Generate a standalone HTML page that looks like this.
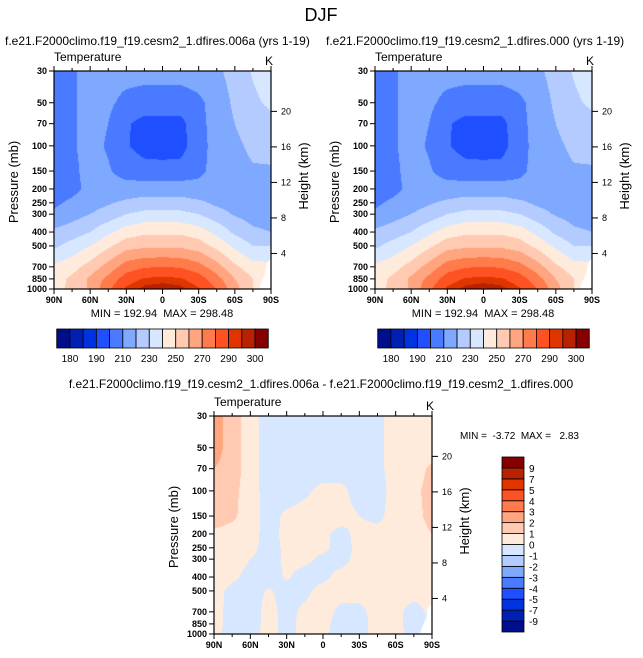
<!DOCTYPE html>
<html><head><meta charset="utf-8"><style>
body{margin:0;background:#fff;width:643px;height:658px;overflow:hidden;position:relative;font-family:"Liberation Sans",sans-serif}
canvas{position:absolute}
svg{position:absolute;left:0;top:0}
text{white-space:pre}
</style></head><body>
<canvas id="c0" width="217" height="218" style="left:54px;top:71px"></canvas>
<canvas id="c1" width="217" height="218" style="left:375px;top:71px"></canvas>
<canvas id="c2" width="218" height="218" style="left:214px;top:416px"></canvas>
<svg id="ov" width="643" height="658"></svg>
<script>
const lats=["90N","75N","60N","45N","30N","15N","0","15S","30S","45S","60S","75S","90S"];
const pLevels=[30,50,70,100,150,200,250,300,400,500,700,850,1000];
const tempLevels=[180,185,190,200,210,220,230,240,250,260,270,280,290,295,300];
const tempLabels=["180","190","210","230","250","270","290","300"];
const diffLevels=[-9,-7,-5,-4,-3,-2,-1,0,1,2,3,4,5,7,9];
const diffLabels=["-9","-7","-5","-4","-3","-2","-1","0","1","2","3","4","5","7","9"];
const colors=["#000e8c","#0020b4","#0033e0","#1f4fff","#4a7aff","#7fa8ff","#b3cbff","#d6e7ff","#ffebdc","#ffcab1","#ffa57f","#ff7b4c","#ff5222","#e13500","#b82200","#860000"];
const temp=[
[204,209,213,214,214,214,214,214,215,218,224,231,236],
[205,209,213,212,207,205,205,205,208,214,222,228,232],
[205,209,213,210,201,197,197,197,207,214,220,225,227],
[205,209,213,209,201,196,195,196,207,213,218,222,223],
[205,208,213,211,206,204,204,204,208,213,217,219,219],
[205,207,213,214,214,215,215,215,213,214,216,215,214],
[208,212,216,219,222,224,224,224,222,218,216,214,214],
[212,216,220,224,230,233,233,233,230,224,219,216,215],
[222,225,230,238,245,248,248,248,245,237,228,222,220],
[228,234,240,248,256,258,258,258,255,247,238,230,230],
[242,246,254,264,275,279,280,279,274,264,252,244,243],
[246,252,262,273,285,291,292,291,285,274,260,250,248],
[247,252,262,278,292,297,299,297,291,280,264,250,248]];
const diff=[
[2.5,1.5,0.5,-0.5,-0.5,-0.5,-0.5,-0.5,-0.5,-0.3,0.5,0.5,0.5],
[2.5,1.5,0.5,-0.5,-0.5,-0.5,-0.5,-0.5,-0.5,-0.3,0.5,0.5,0.5],
[2.0,1.5,0.5,-0.5,-0.5,-0.5,-0.5,-0.5,-0.5,-0.3,0.5,0.6,1.2],
[1.5,1.3,0.5,-0.5,-0.5,-0.2,0.3,0.3,-0.5,-0.5,0.5,0.8,1.3],
[1.5,1.2,0.5,-0.4,0.2,0.4,0.4,0.4,0.0,-0.3,0.5,0.7,1.3],
[0.8,0.6,0.4,-0.4,0.3,0.4,0.2,-0.3,0.3,0.4,0.5,0.6,1.0],
[0.5,0.5,0.3,-0.4,0.2,0.3,0.2,-0.3,0.2,0.4,0.5,0.5,0.5],
[0.5,0.4,0.0,-0.4,0.2,0.2,-0.2,-0.3,0.3,0.4,0.4,0.4,0.4],
[0.5,0.2,-0.3,-0.4,0.1,-0.3,-0.2,0.3,0.3,0.4,0.4,0.4,0.4],
[0.4,-0.3,-0.4,0.1,-0.3,-0.2,0.3,0.3,0.3,0.3,0.3,0.3,0.3],
[0.3,-0.3,-0.4,0.3,-0.3,0.2,0.3,-0.2,-0.2,0.3,0.2,-0.3,0.2],
[0.3,-0.3,-0.4,0.3,-0.3,0.3,0.2,-0.3,-0.3,0.3,0.2,-0.3,-0.2],
[0.2,-0.3,-0.2,0.2,-0.2,0.2,0.1,-0.2,-0.2,0.2,0.2,-0.2,-0.2]];
const heightTicks=[4,8,12,16,20];

const L30=Math.log(30),LR=Math.log(1000/30);
function yOf(p,top,h){return top+(Math.log(p)-L30)/LR*h;}
function hex(c){return [parseInt(c.substr(1,2),16),parseInt(c.substr(3,2),16),parseInt(c.substr(5,2),16)];}
const rgb=colors.map(hex);
function render(id,grid,levels){
  const cv=document.getElementById(id),ctx=cv.getContext('2d'),W=cv.width,H=cv.height;
  const img=ctx.createImageData(W,H);
  const lp=pLevels.map(Math.log);
  for(let y=0;y<H;y++){
    const l=L30+(y+0.5)/H*LR;
    let r=0;while(r<lp.length-2&&l>lp[r+1])r++;
    const fy=Math.min(1,Math.max(0,(l-lp[r])/(lp[r+1]-lp[r])));
    for(let x=0;x<W;x++){
      const u=(x+0.5)/W*(lats.length-1);
      let c=Math.min(lats.length-2,Math.floor(u));const fx=u-c;
      const a=grid[r][c],b=grid[r][c+1],d=grid[r+1][c],e=grid[r+1][c+1];
      const i=(y*W+x)*4;
      const v=(a*(1-fx)+b*fx)*(1-fy)+(d*(1-fx)+e*fx)*fy;
      let k=0;while(k<levels.length&&v>=levels[k])k++;
      const col=rgb[k];img.data[i]=col[0];img.data[i+1]=col[1];img.data[i+2]=col[2];img.data[i+3]=255;
    }
  }
  ctx.putImageData(img,0,0);
  // missing data (Antarctic surface) corner
  ctx.fillStyle='#fff';ctx.beginPath();
  ctx.moveTo(W,H*0.86);ctx.lineTo(W-4,H*0.88);ctx.lineTo(W-6,H*0.93);ctx.lineTo(W-10,H*0.97);ctx.lineTo(W-12,H);ctx.lineTo(W,H);ctx.closePath();ctx.fill();
}
render('c0',temp,tempLevels);render('c1',temp,tempLevels);render('c2',diff,diffLevels);

const NS="http://www.w3.org/2000/svg",ov=document.getElementById('ov');
function el(tag,at,txt){const e=document.createElementNS(NS,tag);for(const k in at)e.setAttribute(k,at[k]);if(txt!=null)e.textContent=txt;ov.appendChild(e);return e;}
function txt(x,y,s,size,anchor,name,extra){const e=el('text',Object.assign({x:x,y:y,'font-size':size,'text-anchor':anchor||'start',fill:'#000'},extra||{}),s);

return e;}
function axes(X,Y,W,H,pre){
  const f=el('rect',{x:X,y:Y,width:W,height:H,fill:'none',stroke:'#000','stroke-width':1.2});
  
  
  pLevels.forEach(p=>{const y=yOf(p,Y,H);
    el('line',{x1:X-5,y1:y,x2:X,y2:y,stroke:'#000'});
    txt(X-7,y+3,String(p),9,'end',pre+'-pressure-tick-label',{'font-weight':'bold'});});
  heightTicks.forEach(z=>{const y=yOf(1000*Math.exp(-z/7),Y,H);
    el('line',{x1:X+W,y1:y,x2:X+W+6,y2:y,stroke:'#000'});
    txt(X+W+10,y+3,String(z),9,'start',pre+'-height-tick-label');});
  lats.forEach((s,i)=>{const x=X+i/(lats.length-1)*W;
    el('line',{x1:x,y1:Y+H,x2:x,y2:Y+H+(i%2?3:5),stroke:'#000'});
    el('line',{x1:x,y1:Y,x2:x,y2:Y-(i%2?3:5),stroke:'#000'});
    if(i%2==0)txt(x,Y+H+14,s,9,'middle',pre+'-lat-tick-label',{'font-weight':'bold'});});
  txt(X,Y-10,'Temperature',12,'start',pre+'-variable-label');
  txt(X+W-6,Y-6,'K',12,'start',pre+'-units-label');
  txt(0,0,'Pressure (mb)',13,'middle',pre+'-y-axis-title',{transform:`translate(${X-36},${Y+H/2+2}) rotate(-90)`});
  txt(0,0,'Height (km)',13,'middle',pre+'-right-axis-title',{transform:`translate(${X+W+37},${Y+H/2-4}) rotate(-90)`});
}
axes(54,71,217,218,'panel1');axes(375,71,217,218,'panel2');axes(214,416,218,218,'diff-panel');
function hbar(X,Y,W,H,pre){const n=colors.length,bw=W/n;
  colors.forEach((c,i)=>{const r=el('rect',{x:X+i*bw,y:Y,width:bw,height:H,fill:c,stroke:'#000','stroke-width':0.8});
    
    });
  tempLabels.forEach((s,j)=>txt(X+(2*j+1)*bw,Y+H+14,s,10,'middle',pre+'-label'));}
hbar(56.7,329,211.6,19,'colorbar1');hbar(377.7,329,211.6,19,'colorbar2');
(function(){const X=502,Y=457,W=22,H=175,n=colors.length,bh=H/n;
  colors.forEach((c,i)=>{const r=el('rect',{x:X,y:Y+H-(i+1)*bh,width:W,height:bh,fill:c,stroke:'#000','stroke-width':0.8});
    
    });
  diffLabels.forEach((s,j)=>txt(X+W+5,Y+H-(j+1)*bh+4,s,10,'start','diff-colorbar-label'));})();
txt(321,21,'DJF',18,'middle','main-title');
txt(5,45,'f.e21.F2000climo.f19_f19.cesm2_1.dfires.006a (yrs 1-19)',12,'start','panel1-title');
txt(326,45,'f.e21.F2000climo.f19_f19.cesm2_1.dfires.000 (yrs 1-19)',12,'start','panel2-title');
txt(162,317,'MIN = 192.94  MAX = 298.48',11,'middle','panel1-minmax');
txt(483,317,'MIN = 192.94  MAX = 298.48',11,'middle','panel2-minmax');
txt(321,388,'f.e21.F2000climo.f19_f19.cesm2_1.dfires.006a - f.e21.F2000climo.f19_f19.cesm2_1.dfires.000',12,'middle','diff-panel-title');
txt(460,439,'MIN =  -3.72  MAX =   2.83',10,'start','diff-minmax');
</script>
</body></html>
